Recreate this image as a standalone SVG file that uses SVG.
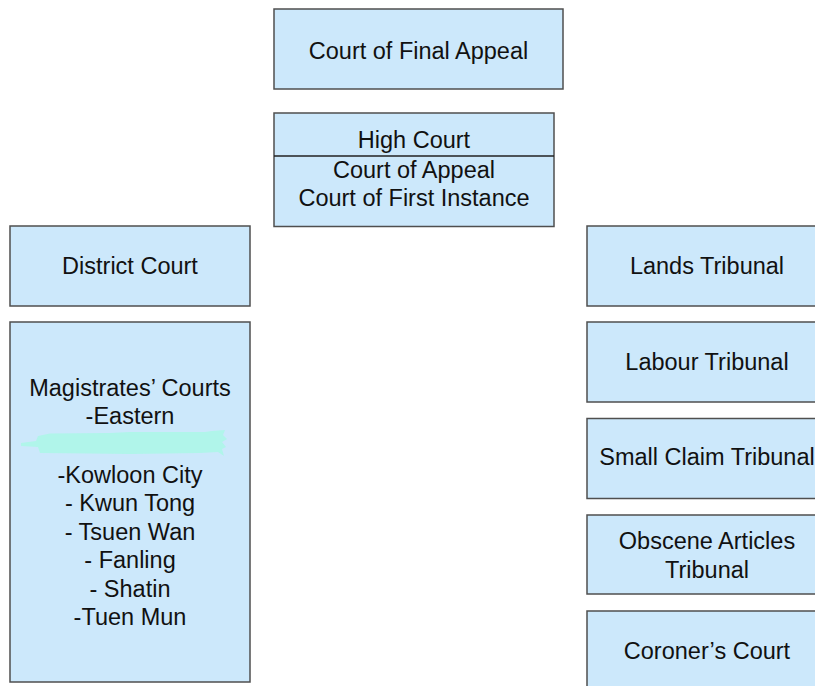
<svg xmlns="http://www.w3.org/2000/svg" width="815" height="686" viewBox="0 0 815 686">
<style>
.box{fill:#CCE8FB;stroke:#4f4f4f;stroke-width:1.5}
.t{font-family:"Liberation Sans",Arial,sans-serif;font-size:23.5px;fill:#111;text-anchor:middle}
</style>
<rect width="815" height="686" fill="#ffffff"/>
<g id="court-final-appeal">
<rect class="box" x="274" y="9" width="289" height="80"/>
<text class="t" x="418.5" y="59">Court of Final Appeal</text>
</g>
<g id="high-court">
<rect class="box" x="274" y="113" width="280" height="113.5"/>
<line x1="274" y1="156" x2="554" y2="156" stroke="#222" stroke-width="1.3"/>
<text class="t" x="414" y="148">High Court</text>
<text class="t" x="414" y="178">Court of Appeal</text>
<text class="t" x="414" y="205.5">Court of First Instance</text>
</g>
<g id="district-court">
<rect class="box" x="10" y="226" width="240" height="80"/>
<text class="t" x="130" y="274">District Court</text>
</g>
<g id="magistrates-courts">
<rect class="box" x="10" y="322" width="240" height="360"/>
<text class="t" x="130" y="396">Magistrates’ Courts</text>
<text class="t" x="130" y="423.5">-Eastern</text>
<path d="M21,443 L36,441 L38,436 L50,433.5 L110,433 L130,432 L205,432 L212,431 L225,430 L223,435 L227,439 L222,442 L226,447 L222,449 L224,456 L218,452 L200,453 L130,454 L90,453.5 L40,453 L38,447 L21,446 Z" fill="#B0F5EA"/>
<text class="t" x="130" y="482.5">-Kowloon City</text>
<text class="t" x="130" y="511">- Kwun Tong</text>
<text class="t" x="130" y="539.5">- Tsuen Wan</text>
<text class="t" x="130" y="568">- Fanling</text>
<text class="t" x="130" y="596.5">- Shatin</text>
<text class="t" x="130" y="625">-Tuen Mun</text>
</g>
<g id="lands-tribunal">
<rect class="box" x="587" y="226" width="240" height="80"/>
<text class="t" x="707" y="274">Lands Tribunal</text>
</g>
<g id="labour-tribunal">
<rect class="box" x="587" y="322" width="240" height="80"/>
<text class="t" x="707" y="370">Labour Tribunal</text>
</g>
<g id="small-claim-tribunal">
<rect class="box" x="587" y="418.5" width="240" height="80"/>
<text class="t" x="707" y="465">Small Claim Tribunal</text>
</g>
<g id="obscene-articles-tribunal">
<rect class="box" x="587" y="515" width="240" height="79"/>
<text class="t" x="707" y="549">Obscene Articles</text>
<text class="t" x="707" y="577.5">Tribunal</text>
</g>
<g id="coroners-court">
<rect class="box" x="587" y="611" width="240" height="90"/>
<text class="t" x="707" y="659">Coroner’s Court</text>
</g>
<g id="connectors"></g>
</svg>
